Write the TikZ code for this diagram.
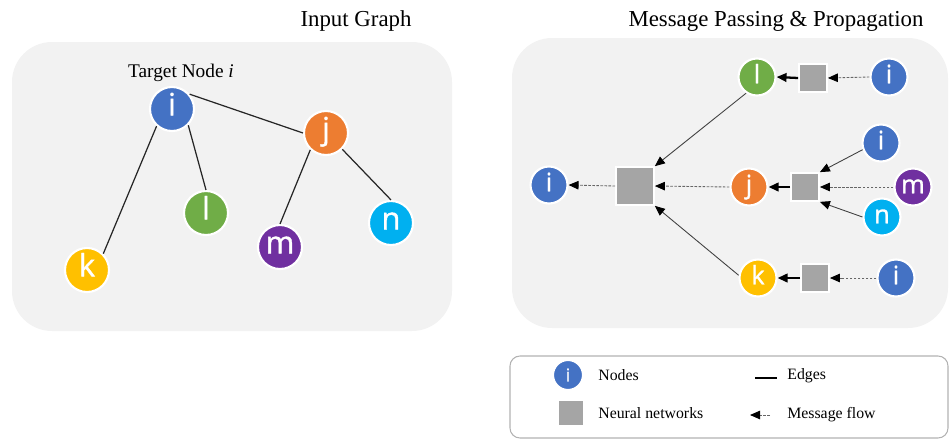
\documentclass[tikz,border=0pt]{standalone}
\usepackage{fontspec}
\setmainfont{Liberation Serif}
\newfontfamily\nodefont[FakeBold=1.2]{Open Sans}
\usepackage{tikz}
\usetikzlibrary{
    arrows.meta,        % punte di freccia
    positioning         % posizionamento dei nodi
}

\definecolor{blu}{HTML}{4472C4}
\definecolor{arancio}{HTML}{ED7D31}
\definecolor{verde}{HTML}{70AD47}
\definecolor{giallo}{HTML}{FFC000}
\definecolor{viola}{HTML}{7030A0}
\definecolor{azzurro}{HTML}{00B0F0}
\definecolor{grigio}{HTML}{A5A5A5}
\definecolor{sfondo}{HTML}{F2F2F2}

\begin{document}
\begin{tikzpicture}[x=0.02cm, y=-0.02cm,
    nodo/.style={circle, draw=white, line width=1.2pt, text=white, inner sep=0pt,
        text height=0.72em, text depth=0pt},
    grande/.style={nodo, minimum size=0.88cm, font=\nodefont\fontsize{17.5}{17.5}\selectfont},
    piccolo/.style={nodo, minimum size=0.74cm, font=\nodefont\fontsize{14.5}{14.5}\selectfont},
    rete/.style={rectangle, fill=grigio, draw=white, line width=1pt, inner sep=0pt},
    arco/.style={draw=black!85, line width=0.7pt},
    freccia/.style={-{Triangle[length=2mm,width=1.7mm,color=black]}, draw=black!75, line width=0.5pt},
    tratteggio/.style={freccia, draw=black!60, dash pattern=on 1.5pt off 0.8pt},
    spessa/.style={freccia, draw=black, line width=1.3pt},
    voce/.style={font=\fontsize{9}{9}\selectfont, anchor=west, inner sep=0pt}
]
        \useasboundingbox (0,0) rectangle (950,440);

        % Titoli
        \node (titolo1) at (356,21) {\fontsize{13}{13}\selectfont Input Graph};
        \node (titolo2) at (776,21) {\fontsize{13}{13}\selectfont Message Passing \& Propagation};

        % Pannelli di sfondo
        \fill[sfondo, rounded corners=0.8cm] (12,42) rectangle (452,331);
        \fill[sfondo, rounded corners=0.8cm] (512,38) rectangle (948,328);

        % Grafo di ingresso
        \node[grande, fill=blu]     (gi) at (172,109) {i};
        \node[grande, fill=arancio] (gj) at (326,133) {j};
        \node[grande, fill=verde]   (gl) at (206,213) {l};
        \node[grande, fill=giallo]  (gk) at (87,270)  {k};
        \node[grande, fill=viola]   (gm) at (280,247) {m};
        \node[grande, fill=azzurro] (gn) at (391,223) {n};
        \node[font=\fontsize{11}{11}\selectfont] (bersaglio) at (181,73) {Target Node \textit{i}};

        \draw[arco] (gi.40) -- (gj.west);
        \draw[arco] (gi.315) -- (gl.north);
        \draw[arco] (gi.228) -- (gk.45);
        \draw[arco] (gj.227) -- (gm.north);
        \draw[arco] (gj.315) -- (gn.north);

        % Propagazione dei messaggi
        \node[piccolo, fill=blu] (pi) at (549,185) {i};
        \node[rete, minimum size=0.76cm] (r0) at (635,186) {};

        \node[piccolo, fill=verde]   (pl) at (757,77)  {l};
        \node[piccolo, fill=arancio] (pj) at (749,187) {j};
        \node[piccolo, fill=giallo]  (pk) at (758,278) {k};

        \node[rete, minimum size=0.56cm] (r1) at (813,78)  {};
        \node[rete, minimum size=0.56cm] (r2) at (805,187) {};
        \node[rete, minimum size=0.56cm] (r3) at (815,278) {};

        \node[piccolo, fill=blu]     (pi1) at (889,77)  {i};
        \node[piccolo, fill=blu]     (pi2) at (881,143) {i};
        \node[piccolo, fill=viola]   (pm)  at (913,187) {m};
        \node[piccolo, fill=azzurro] (pn)  at (882,217) {n};
        \node[piccolo, fill=blu]     (pi3) at (896,278) {i};

        \draw[tratteggio] (pi1.west) -- (r1.east);
        \draw[spessa] (r1.west) -- (pl.east);
        \draw[freccia] (pl.236) -- (r0.north east);

        \draw[freccia] (pi2.200) -- (r2.north east);
        \draw[tratteggio] (pm.west) -- (r2.east);
        \draw[freccia] (pn.west) -- (r2.south east);
        \draw[spessa] (r2.west) -- (pj.east);
        \draw[tratteggio] (pj.west) -- (r0.east);

        \draw[tratteggio] (pi3.west) -- (r3.east);
        \draw[spessa] (r3.west) -- (pk.east);
        \draw[freccia] (pk.172) -- (r0.south east);

        \draw[tratteggio] (r0.west) -- (pi.east);

        % Legenda
        \draw[black!30, line width=0.6pt, rounded corners=0.2cm] (510,356) rectangle (948,438);
        \node[nodo, fill=blu, minimum size=0.6cm, font=\nodefont\fontsize{10}{10}\selectfont] (li) at (568,375) {i};
        \node[rete, minimum size=0.52cm] (lr) at (571,413) {};
        \node[voce] (tnodi) at (598,375) {Nodes};
        \node[voce] (treti) at (598,413) {Neural networks};
        \coordinate (a1) at (755,378);
        \coordinate (a2) at (777,378);
        \draw[black, line width=0.6pt] (a1) -- (a2);
        \node[voce] (tarchi) at (787,376) {Edges};
        \coordinate (f1) at (770,415);
        \coordinate (f2) at (750,415);
        \draw[tratteggio] (f1) -- (f2);
        \node[voce] (tflusso) at (787,415) {Message flow};

    \end{tikzpicture}
\end{document}
